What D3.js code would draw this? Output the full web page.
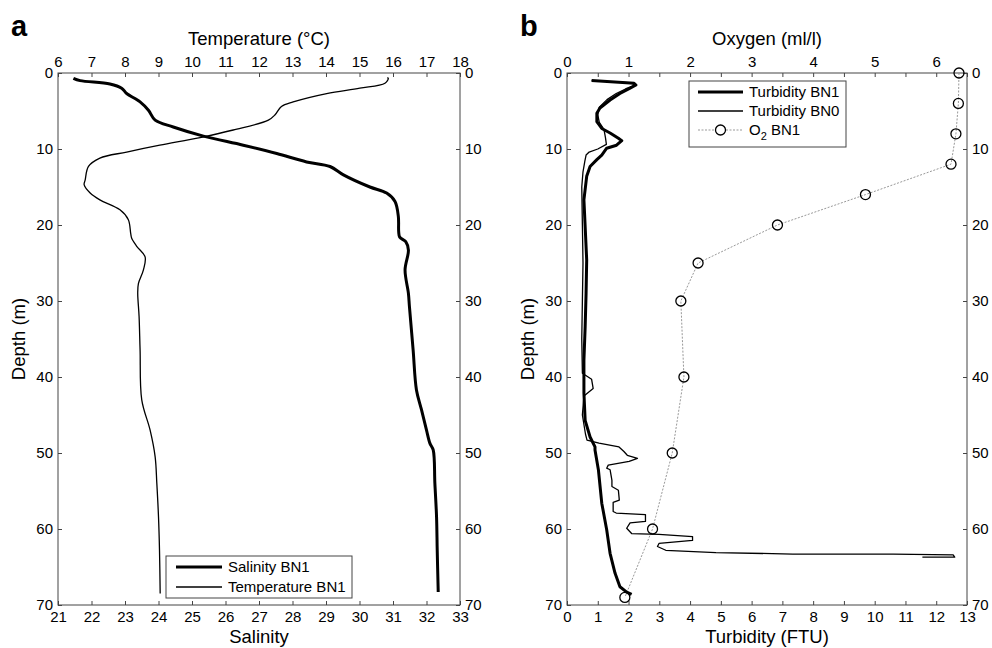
<!DOCTYPE html>
<html>
<head>
<meta charset="utf-8">
<script src="https://cdn.jsdelivr.net/npm/d3@7"></script>
<style>
  body { margin: 0; background: #fff; }
  svg { font-family: "Liberation Sans", Arial, sans-serif; }
</style>
</head>
<body>
<div id="chart"></div>
<script>
// profile data (depth in m)
const salDepth = [0.7, 1.0, 1.45, 2.0, 2.7, 3.8, 4.9, 6.2, 7.1, 8.3, 9.5, 10.6, 11.7, 12.3, 13.4, 15.0, 15.8, 16.9, 18.9, 20.9, 21.6, 22.2, 23.3, 25.9, 29.0, 30.7, 36.4, 41.7, 44.3, 47.0, 48.7, 49.6, 54.0, 58.4, 62.8, 68.3];
const salBN1   = [21.46, 21.66, 22.55, 22.9, 23.05, 23.45, 23.7, 23.9, 24.44, 25.34, 26.53, 27.53, 28.42, 29.12, 29.52, 30.31, 30.81, 31.06, 31.16, 31.17, 31.2, 31.38, 31.46, 31.36, 31.46, 31.49, 31.6, 31.7, 31.85, 32.0, 32.1, 32.2, 32.25, 32.3, 32.32, 32.35];

const tempDepth = [0.6, 0.7, 1.35, 2.0, 2.7, 3.8, 4.4, 5.5, 6.2, 7.5, 8.5, 9.5, 10.4, 11.2, 12.3, 14.1, 14.7, 15.8, 16.7, 18.0, 19.3, 21.1, 21.75, 22.8, 24.2, 25.9, 27.7, 29.0, 32.0, 36.4, 43.0, 47.0, 50.5, 54.0, 58.4, 62.8, 68.5];
const tempBN1   = [15.83, 15.86, 15.76, 15.01, 14.02, 13.02, 12.67, 12.48, 12.28, 11.23, 10.24, 9.04, 8.05, 7.25, 6.91, 6.81, 6.78, 6.96, 7.25, 7.85, 8.1, 8.17, 8.2, 8.35, 8.6, 8.55, 8.4, 8.38, 8.42, 8.45, 8.5, 8.75, 8.9, 8.95, 9.0, 9.03, 9.05];

const turb1Depth = [1.0, 1.36, 1.58, 2.0, 2.7, 3.55, 4.6, 5.3, 6.4, 7.3, 7.9, 8.6, 8.9, 9.5, 9.9, 10.8, 11.4, 12.3, 13.6, 16.7, 20.2, 24.6, 29.0, 33.4, 37.8, 42.1, 45.7, 47.9, 49.2, 49.6, 52.2, 56.6, 60.1, 63.2, 65.8, 67.6, 68.3, 68.6];
const turbBN1    = [0.80, 2.18, 2.24, 2.05, 1.72, 1.40, 1.07, 0.97, 0.97, 1.13, 1.40, 1.67, 1.78, 1.61, 1.29, 1.13, 0.97, 0.75, 0.64, 0.55, 0.59, 0.64, 0.62, 0.59, 0.55, 0.55, 0.59, 0.75, 0.91, 0.91, 1.02, 1.13, 1.29, 1.40, 1.56, 1.72, 1.94, 2.10];

const turb0Depth = [1.0, 1.3, 1.6, 2.1, 2.7, 3.5, 4.5, 5.5, 6.5, 7.4, 8.5, 9.4, 10.0, 10.4, 10.8, 11.6, 13.0, 15.0, 20.0, 25.0, 30.0, 35.0, 39.5, 40.3, 41.5, 42.5, 45.0, 47.5, 48.3, 48.7, 49.2, 49.8, 50.3, 50.7, 51.1, 51.6, 52.0, 52.2, 53.6, 54.4, 54.9, 56.2, 56.5, 57.7, 57.9, 58.1, 59.0, 59.2, 59.9, 60.6, 60.7, 61.0, 61.5, 61.9, 62.3, 62.8, 63.1, 63.3, 63.3, 63.4, 63.7, 63.7];
const turbBN0    = [0.80, 2.10, 2.20, 1.90, 1.60, 1.30, 1.05, 1.00, 1.05, 1.20, 1.25, 1.28, 1.00, 0.72, 0.62, 0.58, 0.52, 0.48, 0.50, 0.52, 0.50, 0.48, 0.50, 0.80, 0.85, 0.55, 0.50, 0.60, 0.65, 1.04, 1.69, 1.85, 1.96, 2.29, 2.02, 1.34, 1.29, 1.40, 1.46, 1.46, 1.67, 1.70, 1.50, 1.50, 1.60, 2.55, 2.55, 2.05, 1.94, 2.10, 2.99, 4.08, 4.08, 2.99, 2.94, 3.21, 4.84, 7.34, 10.6, 12.55, 12.6, 11.55];

const o2Depth = [0, 4, 8, 12, 16, 20, 25, 30, 40, 50, 60, 69];
const o2BN1   = [6.37, 6.36, 6.32, 6.24, 4.85, 3.42, 2.13, 1.85, 1.90, 1.71, 1.39, 0.94];

const depthTicks = [0, 10, 20, 30, 40, 50, 60, 70];
const salTicks = d3.range(21, 34);
const tempTicks = d3.range(6, 19);
const turbTicks = d3.range(0, 14);
const oxyTicks = d3.range(0, 6.51, 0.5);

const width = 992, height = 648;
const yTop = 73, yBot = 605;

const svg = d3.select("#chart").append("svg")
  .attr("width", width).attr("height", height);

const y = d3.scaleLinear().domain([0, 70]).range([yTop, yBot]);

// panel a scales
const xSal = d3.scaleLinear().domain([21, 33]).range([58, 460]);
const xTemp = d3.scaleLinear().domain([6, 18]).range([58, 460]);
// panel b scales
const xTurb = d3.scaleLinear().domain([0, 13]).range([567, 967]);
const xOxy = d3.scaleLinear().domain([0, 6.5]).range([567, 967]);

function frame(x0, x1, xb, xt, bTicks, tTicks, tFmt, bTitle, tTitle, letter) {
  const g = svg.append("g");
  const fs = "15px";
  g.append("g").attr("transform", `translate(0,${yBot})`)
    .call(d3.axisBottom(xb).tickValues(bTicks).tickSizeInner(-4).tickSizeOuter(0).tickPadding(6))
    .call(s => s.selectAll("text").attr("font-size", fs).attr("fill", "#000"));
  g.append("g").attr("transform", `translate(0,${yTop})`)
    .call(d3.axisTop(xt).tickValues(tTicks).tickFormat(tFmt).tickSizeInner(-4).tickSizeOuter(0).tickPadding(6))
    .call(s => s.selectAll("text").attr("font-size", fs).attr("fill", "#000"));
  g.append("g").attr("transform", `translate(${x0},0)`)
    .call(d3.axisLeft(y).tickValues(depthTicks).tickSizeInner(-4).tickSizeOuter(0).tickPadding(5))
    .call(s => s.selectAll("text").attr("font-size", fs).attr("fill", "#000"));
  g.append("g").attr("transform", `translate(${x1},0)`)
    .call(d3.axisRight(y).tickValues(depthTicks).tickSizeInner(-4).tickSizeOuter(0).tickPadding(5))
    .call(s => s.selectAll("text").attr("font-size", fs).attr("fill", "#000"));
  g.selectAll(".domain").remove();
  g.selectAll(".tick line").attr("stroke", "#444");
  g.append("rect").attr("x", x0).attr("y", yTop).attr("width", x1 - x0).attr("height", yBot - yTop)
    .attr("fill", "none").attr("stroke", "#444").attr("stroke-width", 1);

  const mid = (x0 + x1) / 2;
  g.append("text").attr("x", mid).attr("y", 45).attr("text-anchor", "middle")
    .attr("font-size", "18.5px").text(tTitle);
  g.append("text").attr("x", mid).attr("y", 643).attr("text-anchor", "middle")
    .attr("font-size", "18.5px").text(bTitle);
  g.append("text").attr("transform", `translate(${x0 - 33},${(yTop + yBot) / 2}) rotate(-90)`)
    .attr("text-anchor", "middle").attr("font-size", "18.5px").text("Depth (m)");
  g.append("text").attr("x", x0 - 47).attr("y", 36).attr("font-size", "29px")
    .attr("font-weight", "bold").text(letter);
}

frame(58, 460, xSal, xTemp, salTicks, tempTicks, d => d, "Salinity", "Temperature (°C)", "a");
frame(567, 967, xTurb, xOxy, turbTicks, oxyTicks, d => Number.isInteger(d) ? d : "", "Turbidity (FTU)", "Oxygen (ml/l)", "b");

const line = (xs, vals, deps, curve) => d3.line()
  .curve(curve || d3.curveLinear)
  .x((d, i) => xs(vals[i])).y((d, i) => y(deps[i]))(vals);

// panel a lines
const smooth = d3.curveCatmullRom.alpha(0.5);
svg.append("path").attr("d", line(xTemp, tempBN1, tempDepth, smooth))
  .attr("fill", "none").attr("stroke", "#000").attr("stroke-width", 1.3).attr("stroke-linejoin", "round");
svg.append("path").attr("d", line(xSal, salBN1, salDepth, smooth))
  .attr("fill", "none").attr("stroke", "#000").attr("stroke-width", 3).attr("stroke-linejoin", "round");

// panel b lines
svg.append("path").attr("d", line(xOxy, o2BN1, o2Depth))
  .attr("fill", "none").attr("stroke", "#999").attr("stroke-width", 1).attr("stroke-dasharray", "2,1.5");
svg.append("path").attr("d", line(xTurb, turbBN0, turb0Depth))
  .attr("fill", "none").attr("stroke", "#000").attr("stroke-width", 1.3).attr("stroke-linejoin", "round");
svg.append("path").attr("d", line(xTurb, turbBN1, turb1Depth))
  .attr("fill", "none").attr("stroke", "#000").attr("stroke-width", 3).attr("stroke-linejoin", "round");
svg.append("g").selectAll("circle").data(o2BN1).join("circle")
  .attr("cx", d => xOxy(d)).attr("cy", (d, i) => y(o2Depth[i])).attr("r", 5)
  .attr("fill", "none").attr("stroke", "#000").attr("stroke-width", 1.3);

// legend a
const la = svg.append("g");
la.append("rect").attr("x", 166).attr("y", 556).attr("width", 186).attr("height", 42)
  .attr("fill", "#fff").attr("stroke", "#444");
la.append("line").attr("x1", 176).attr("x2", 222).attr("y1", 567).attr("y2", 567)
  .attr("stroke", "#000").attr("stroke-width", 3);
la.append("line").attr("x1", 176).attr("x2", 222).attr("y1", 587).attr("y2", 587)
  .attr("stroke", "#000").attr("stroke-width", 1.3);
la.append("text").attr("x", 228).attr("y", 567).attr("dy", "0.35em").attr("font-size", "15px").text("Salinity BN1");
la.append("text").attr("x", 228).attr("y", 587).attr("dy", "0.35em").attr("font-size", "15px").text("Temperature BN1");

// legend b
const lb = svg.append("g");
lb.append("rect").attr("x", 689).attr("y", 81).attr("width", 157).attr("height", 66)
  .attr("fill", "#fff").attr("stroke", "#444");
lb.append("line").attr("x1", 698).attr("x2", 743).attr("y1", 92).attr("y2", 92)
  .attr("stroke", "#000").attr("stroke-width", 3);
lb.append("line").attr("x1", 698).attr("x2", 743).attr("y1", 111).attr("y2", 111)
  .attr("stroke", "#000").attr("stroke-width", 1.3);
lb.append("line").attr("x1", 698).attr("x2", 743).attr("y1", 130).attr("y2", 130)
  .attr("stroke", "#999").attr("stroke-width", 1).attr("stroke-dasharray", "2,1.5");
lb.append("circle").attr("cx", 720.5).attr("cy", 130).attr("r", 5)
  .attr("fill", "#fff").attr("stroke", "#000").attr("stroke-width", 1.3);
lb.append("text").attr("x", 749).attr("y", 92).attr("dy", "0.35em").attr("font-size", "15px").text("Turbidity BN1");
lb.append("text").attr("x", 749).attr("y", 111).attr("dy", "0.35em").attr("font-size", "15px").text("Turbidity BN0");
const o2t = lb.append("text").attr("x", 749).attr("y", 130).attr("dy", "0.35em").attr("font-size", "15px");
o2t.append("tspan").text("O");
o2t.append("tspan").attr("font-size", "11px").attr("dy", "5").text("2");
o2t.append("tspan").attr("dy", "-5").text(" BN1");
</script>
</body>
</html>
